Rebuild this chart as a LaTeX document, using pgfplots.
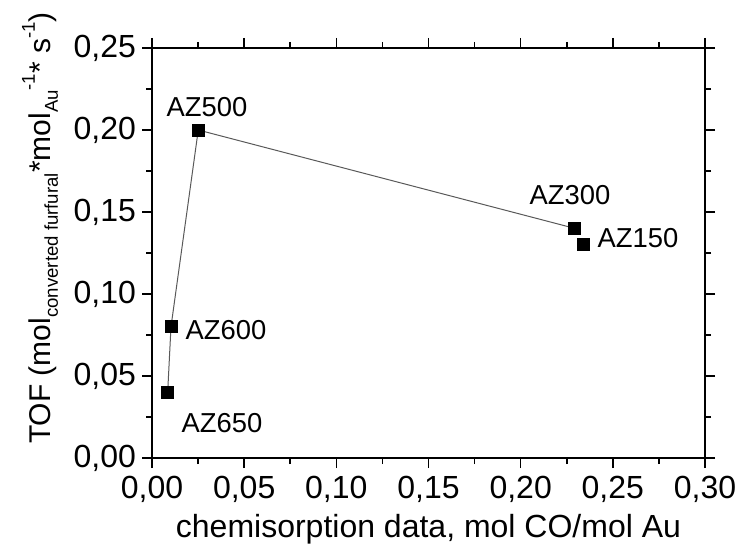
\documentclass[border=0pt]{standalone}
\usepackage{fontspec}
\setmainfont{Liberation Sans}
\usepackage{pgfplots}
\pgfplotsset{compat=1.18}
\newcommand{\sbs}[1]{\raisebox{-0.45ex}{\fontsize{9.3}{11}\selectfont #1}}
\newcommand{\sps}[1]{\raisebox{1.0ex}{\fontsize{9.3}{11}\selectfont #1}}
\begin{document}
\begin{tikzpicture}
\begin{axis}[
  scale only axis,
  width=276.5pt, height=205pt,
  xmin=0, xmax=0.30, ymin=0, ymax=0.25,
  xtick={0,0.05,...,0.301}, ytick={0,0.05,...,0.251},
  minor tick num=1,
  tick align=outside,
  major tick length=5pt, minor tick length=3pt,
  axis line style={line width=0.8pt},
  every tick/.style={line width=0.8pt, black},
  /pgf/number format/assume math mode=true,
  /pgf/number format/use comma,
  /pgf/number format/fixed,
  /pgf/number format/fixed zerofill,
  /pgf/number format/precision=2,
  scaled ticks=false,
  tick label style={font=\fontsize{16}{19}\selectfont},
  xticklabel style={yshift=-0.5pt},
  yticklabel style={xshift=0.5pt},
  every axis x label/.style={at={(axis description cs:0.5,-0.174)}, anchor=center},
  every axis y label/.style={at={(axis description cs:-0.2025,0.561)}, anchor=center, rotate=90},
  xlabel style={font=\fontsize{16}{19}\selectfont},
  ylabel style={font=\fontsize{15}{18}\selectfont},
  xlabel={chemisorption data, mol CO/mol Au},
  ylabel={TOF (mol\sbs{converted furfural}*mol\sbs{Au}\sps{-1}* s\sps{-1})},
]
\addplot[gray!70!black, line width=0.5pt, mark=none] coordinates {
  (0.0085,0.040) (0.0103,0.080) (0.0251,0.200) (0.2294,0.140)
};
\addplot[only marks, mark=square*, mark size=3pt, black] coordinates {
  (0.0085,0.040) (0.0103,0.080) (0.0251,0.200) (0.2294,0.140) (0.2340,0.1305)
};
\begin{scope}[every node/.style={font=\fontsize{13.7}{16}\selectfont, anchor=center}]
\node at (axis cs:0.0298,0.214) {AZ500};
\node at (axis cs:0.0401,0.0780) {AZ600};
\node at (axis cs:0.0380,0.0213) {AZ650};
\node at (axis cs:0.2267,0.1604) {AZ300};
\node at (axis cs:0.2636,0.1341) {AZ150};
\end{scope}
\end{axis}
\pgfresetboundingbox
\path ([shift={(-76pt,-46.5pt)}]current axis.south west) rectangle ([shift={(16.5pt,24pt)}]current axis.north east);
\end{tikzpicture}
\end{document}
